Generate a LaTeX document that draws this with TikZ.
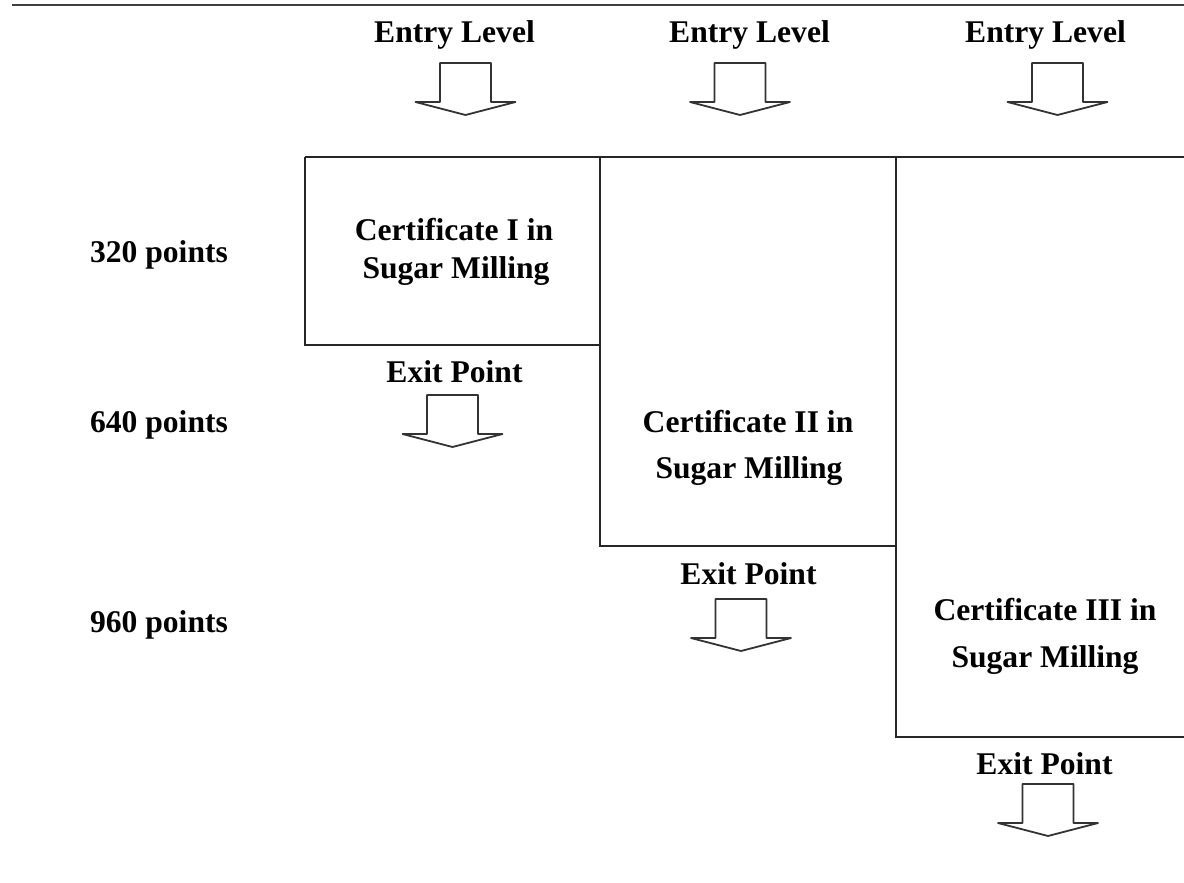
\documentclass[tikz,border=0pt]{standalone}
\usepackage{fontspec}
\setmainfont{Liberation Serif}
\begin{document}
\begin{tikzpicture}[x=0.5pt,y=-0.5pt, line width=1pt, draw=black!85,
  lbl/.style={font=\fontsize{15.8}{19}\selectfont\bfseries, inner sep=0, anchor=base},
  pics/blockarrow/.style={code={\draw[line width=0.9pt, line join=round, draw=black!80]
     (-25.5,0) -- (25.5,0) -- (25.5,39) -- (50,39) -- (0,52) -- (-50,39) -- (-25.5,39) -- cycle;}}]
\useasboundingbox (0,0) rectangle (1184,883);
% top rule
\draw[line width=1.2pt, black!75] (12,5) coordinate (r0) -- (1184,5) coordinate (r1);
% boxes
\draw (305,157) -- (1184,157);
\draw (305,157) -- (305,345) -- (600,345);
\draw (600,157) -- (600,546) -- (896,546);
\draw (896,157) -- (896,737) -- (1184,737);
% entry labels and arrows
\node[lbl] (e1) at (454.5,43) {Entry Level};
\node[lbl] (e2) at (749.5,43) {Entry Level};
\node[lbl] (e3) at (1045.5,43) {Entry Level};
\pic at (465.5,63) {blockarrow};
\pic at (740,63) {blockarrow};
\pic at (1057.5,63) {blockarrow};
% left labels
\node[lbl] (p1) at (159,262.5) {320 points};
\node[lbl] (p2) at (159,432.5) {640 points};
\node[lbl] (p3) at (159,632.5) {960 points};
% certificate texts
\node[lbl] (c1a) at (454,240.5) {Certificate I in};
\node[lbl] (c1b) at (456,278.5) {Sugar Milling};
\node[lbl] (c2a) at (748,432.5) {Certificate II in};
\node[lbl] (c2b) at (749,478.5) {Sugar Milling};
\node[lbl] (c3a) at (1045,620.5) {Certificate III in};
\node[lbl] (c3b) at (1045,667.5) {Sugar Milling};
% exit labels and arrows
\node[lbl] (x1) at (454.5,382.5) {Exit Point};
\node[lbl] (x2) at (748.5,584.5) {Exit Point};
\node[lbl] (x3) at (1044.5,774.5) {Exit Point};
\pic at (452.5,395) {blockarrow};
\pic at (741,599) {blockarrow};
\pic at (1048,784) {blockarrow};
\end{tikzpicture}
\end{document}
